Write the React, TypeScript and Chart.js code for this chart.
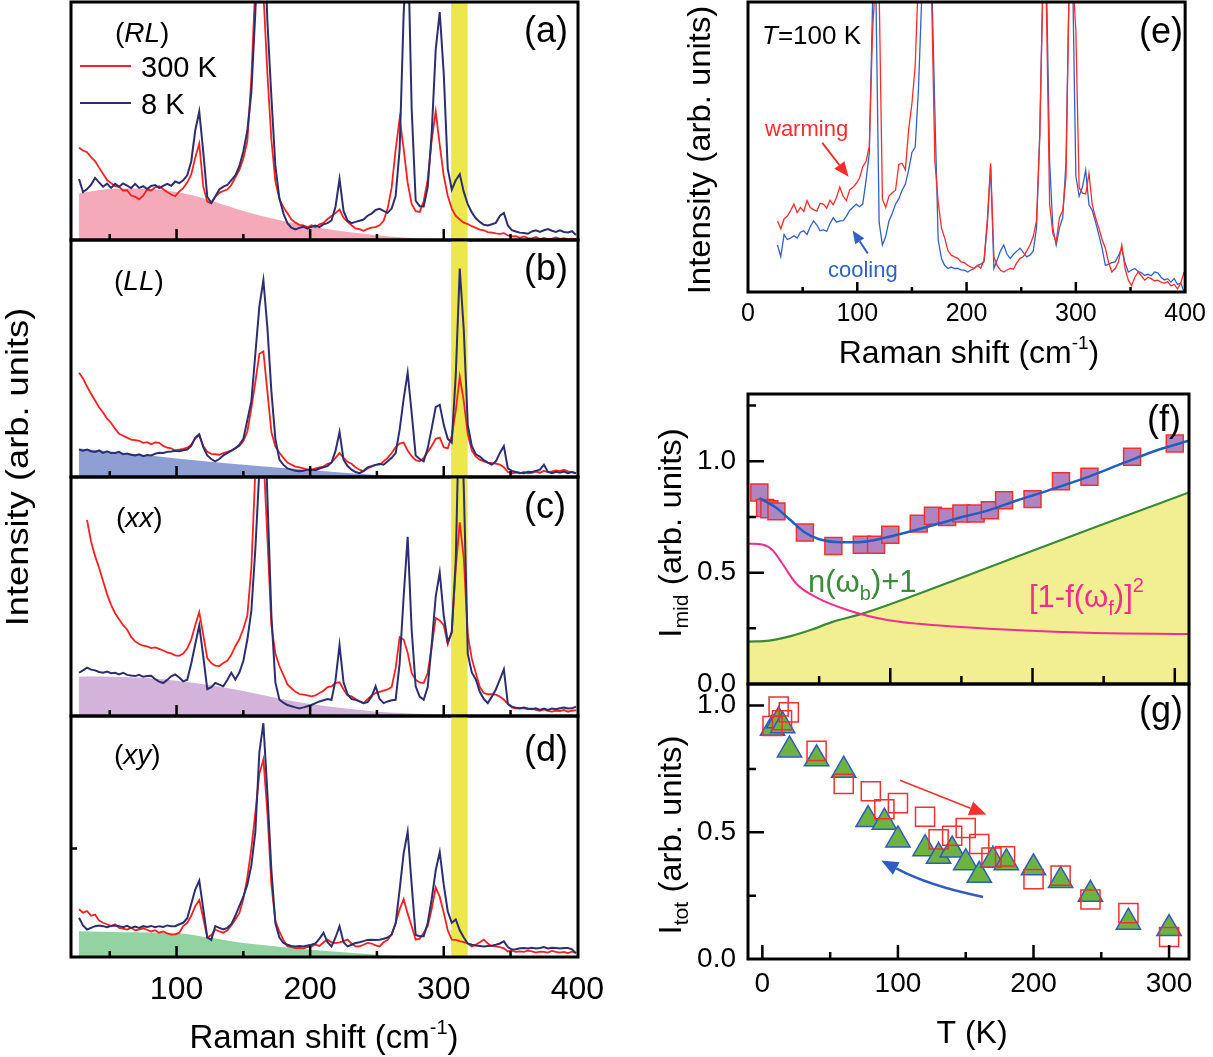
import React, { useEffect, useRef } from "react";
import { Chart, registerables } from "chart.js";

Chart.register(...registerables);

const FONT = '"Liberation Sans", Arial, Helvetica, sans-serif';
const W = 1213;
const H = 1057;

// ---------- Raman spectra, panels (a)-(e) ----------
// Raman shift grid (cm^-1) shared by every spectrum
const shift = [
  27, 30, 33, 36, 39, 42, 45, 48, 51, 54,
  57, 60, 63, 66, 69, 72, 75, 78, 81, 84,
  87, 90, 93, 96, 99, 102, 105, 108, 111, 114,
  117, 120, 123, 126, 129, 132, 135, 138, 141, 144,
  147, 150, 153, 156, 159, 162, 165, 168, 171, 174,
  177, 180, 183, 186, 189, 192, 195, 198, 201, 204,
  207, 210, 213, 216, 219, 222, 225, 228, 231, 234,
  237, 240, 243, 246, 249, 252, 255, 258, 261, 264,
  267, 270, 273, 276, 279, 282, 285, 288, 291, 294,
  297, 300, 303, 306, 309, 312, 315, 318, 321, 324,
  327, 330, 333, 336, 339, 342, 345, 348, 351, 354,
  357, 360, 363, 366, 369, 372, 375, 378, 381, 384,
  387, 390, 393, 396, 399,
];

// (RL) geometry
const rl300 = [
  38.8, 37.6, 36.9, 34.8, 33.2, 30.4, 27.8, 25.2, 23.9, 22.6,
  22.3, 20.8, 20.9, 18.7, 18.2, 17.1, 18.6, 21.2, 20.8, 22.1,
  22.6, 21.3, 20.2, 19.1, 18.4, 20.3, 21.8, 24.1, 27.5, 34.6,
  40.5, 22.4, 16.1, 15.4, 18.2, 19.8, 20.6, 21.2, 23.1, 26.3,
  29.4, 34.2, 41.5, 68, 108, 140, 104, 70, 42, 24.5,
  17.2, 13.8, 11.2, 8.6, 7.3, 6.4, 6.1, 5.3, 6.2, 5.4,
  6.6, 7.2, 8.8, 10.1, 11.3, 12.8, 9.4, 7.6, 6.2, 4.9,
  4.6, 3.9, 4.7, 5.2, 5.4, 6.2, 8.1, 13.2, 22, 38,
  51, 38.3, 24, 15.2, 12.1, 11.8, 16.3, 25.4, 42, 54,
  40, 27, 18.6, 13.2, 10.1, 8.6, 7.3, 6.7, 5.8, 5.1,
  4.4, 4.1, 3.3, 3.1, 2.8, 2.6, 2.9, 1.9, 1.5, 1.6,
  0.9, 1.5, 0.8, 0.7, 1.3, 0.4, 0.9, 0.3, 0.6, 1.1,
  0.5, 0.8, 0.3, 0.6, 0.5,
];
const rl8 = [
  25.6, 20.1, 21.4, 23.2, 26.1, 24.2, 22.4, 23.7, 21.9, 23.6,
  22.4, 23.8, 22.9, 21.8, 23.6, 21.9, 22.6, 21.4, 22.7, 23.1,
  21.8, 22.7, 23.6, 22.8, 24.6, 23.9, 25.1, 27.2, 33, 46,
  54, 37, 18.2, 15.6, 18.3, 21.2, 22.4, 23.1, 25.2, 27.1,
  31, 37.2, 46, 62, 96, 140, 140, 92, 60, 31,
  17.5, 11.2, 7.1, 5.2, 4.4, 5.1, 5.6, 4.8, 5.6, 6.1,
  5.4, 6.6, 7.1, 8.2, 14, 25.6, 12.2, 8.1, 7.1, 7.6,
  8.1, 8.6, 10.2, 11.1, 12.6, 13.1, 12.2, 11.4, 13.2, 18.5,
  38, 95, 130, 55, 16.5, 14.2, 14.1, 22.2, 45, 80,
  95.8, 70, 30, 21.2, 25.1, 27.6, 20.2, 15.1, 11.6, 9.1,
  7.6, 6.4, 6.1, 6.6, 7.2, 10.1, 11.4, 6.1, 4.1, 3.6,
  3.1, 2.9, 2.6, 3.6, 4.1, 3.4, 4.1, 4.6, 3.9, 3.4,
  4.1, 3.4, 3.2, 3.7, 2.1,
];

// (LL) geometry
const ll300 = [
  44, 41.6, 38.2, 35.1, 32.3, 29.4, 27.2, 24.6, 22.8, 20.4,
  18.2, 17.4, 16.6, 15.8, 15.6, 15.3, 14.4, 14.7, 13.8, 14.6,
  14.4, 13.1, 12.4, 12.1, 11.2, 11.6, 11.9, 12.4, 13.6, 16.2,
  17.6, 13.1, 10.6, 9.8, 9.6, 9.4, 10.1, 10.6, 11.1, 12.2,
  13.1, 15.2, 19.2, 29, 40, 52, 53, 36, 19, 12.8,
  10.2, 8.1, 6.1, 5.2, 4.4, 4.1, 3.6, 3.1, 2.9, 3.6,
  4.1, 4.4, 5.6, 6.1, 8.1, 10.2, 8.1, 6.4, 5.6, 4.1,
  3.1, 2.4, 3.6, 4.4, 5.1, 5.2, 6.6, 8.1, 10.1, 12.6,
  14.1, 14.5, 11.2, 8.8, 7.1, 6.6, 8.1, 10.6, 13.1, 16.1,
  16.6, 12.6, 12.1, 17.3, 28, 42.3, 32, 18, 11.2, 8.6,
  7.3, 6.6, 6.1, 5.9, 5.6, 5.2, 4.1, 2.1, 1.6, 1.9,
  1.6, 2.1, 1.5, 1.7, 2.3, 1.8, 2.6, 2.1, 2.4, 2.8,
  2.5, 3.1, 2.4, 2.1, 1.6,
];
const ll8 = [
  11.6, 11.1, 11.6, 10.9, 10.6, 11.2, 10.2, 10.8, 10.1, 10.1,
  10.6, 9.6, 9.9, 9.4, 9.1, 9.6, 8.8, 9.3, 9.1, 9.8,
  10.2, 10.1, 10.6, 10.8, 11.1, 10.9, 11.3, 11.6, 13.1, 16.6,
  18, 12.6, 9.1, 7.6, 6.6, 7.6, 9.1, 10.1, 11.1, 12.1,
  13.6, 16.1, 24, 32, 52, 72, 83, 63, 36, 16,
  7.3, 5.1, 3.6, 3.1, 2.6, 2.4, 2.6, 3.1, 3.2, 2.9,
  3.6, 4.1, 4.6, 6.1, 11, 19, 7.3, 4.6, 3.1, 2.1,
  1.6, 2.6, 4.1, 4.6, 5.1, 5.6, 5.2, 6.6, 8.1, 10.1,
  20, 33, 44, 27, 9.1, 7.6, 6.6, 12.1, 20.5, 29.5,
  30.5, 22, 16.1, 14.5, 43, 88, 62, 22, 13.1, 9.6,
  8.6, 7.1, 6.1, 5.2, 6.6, 10.1, 13, 3.6, 2.6, 2.1,
  1.8, 1.6, 2.2, 2.1, 2.6, 3.1, 5.2, 2.1, 1.6, 2.2,
  1.8, 2.3, 1.6, 2.1, 1.6,
];

// (xx) geometry
const xx300 = [
  null, null, 82, 73, 67, 62, 56.5, 51, 46.5, 43,
  40.5, 38, 36.2, 33.1, 31.2, 30.1, 29.4, 29.1, 28.4, 28.7,
  28.1, 27.4, 26.6, 26.2, 25.4, 25.2, 26.1, 28.2, 32, 38,
  43.5, 34, 24.2, 22.1, 21.1, 20.9, 22.2, 23.1, 25.6, 29.2,
  32.1, 36.5, 42, 62, 103, 140, 110, 74.6, 38, 26,
  20.9, 17.1, 13.2, 11.6, 10.1, 9.2, 8.9, 8.6, 8.2, 8.6,
  9.6, 10.6, 12.1, 12.4, 13.9, 14.1, 11.1, 8.6, 8.2, 7.1,
  6.1, 5.4, 7.1, 8.6, 9.6, 10.1, 10.6, 11.1, 12.1, 20,
  33, 32, 26.5, 18, 15.1, 14.1, 13.8, 18, 29, 41,
  40, 38, 30, 35, 62, 81, 66, 34, 24, 18,
  12.1, 9.6, 9.1, 9.1, 8.9, 8.1, 6.8, 5.1, 3.6, 3.2,
  3.1, 3.3, 2.8, 3.2, 2.6, 2.2, 2.8, 2.1, 1.8, 2.2,
  2.1, 2.5, 1.8, 2.2, 2.5,
];
const xx8 = [
  18.1, 19.1, 20.2, 19.4, 19.1, 18.4, 18.1, 18.6, 17.9, 18.1,
  17.4, 18.1, 17.2, 16.9, 16.7, 17.2, 16.4, 16.7, 16.8, 15.4,
  14.4, 13.8, 15.1, 16.6, 17.4, 16.1, 14.5, 15.2, 22, 30,
  37.9, 25, 11.2, 12.1, 13.8, 13.1, 12.4, 15.1, 18.1, 15.3,
  18.2, 23, 32, 44, 70, 103, 140, 92, 42, 14,
  6.8, 5.6, 4.6, 4.1, 3.6, 3.2, 3.6, 4.1, 4.6, 5.4,
  6.1, 6.6, 7.1, 6.8, 15, 29.7, 14.1, 9.1, 7.1, 6.8,
  6.1, 5.4, 5.8, 8.1, 12.4, 7.1, 5.4, 6.1, 6.6, 6.8,
  22, 50, 75, 36, 12.4, 8.1, 6.8, 12.1, 30, 50,
  60, 42, 31, 35, 65, 140, 96, 26, 18.2, 15.3,
  10.1, 7.1, 5.4, 8.1, 11.1, 15.2, 19.5, 5.1, 3.9, 3.5,
  3.2, 3.5, 3.1, 2.8, 3.2, 2.5, 3.1, 2.5, 3.1, 2.8,
  3.2, 3.5, 3.1, 3.2, 3.9,
];

// (xy) geometry
const xy300 = [
  19.8, 18.4, 19.1, 17.1, 17.6, 15.1, 14.2, 13.6, 12.8, 13.6,
  12.1, 11.8, 11.4, 12.1, 11.1, 11.4, 11.9, 11.3, 10.6, 11.1,
  10.1, 10.6, 9.8, 9.3, 9.4, 10.1, 12.8, 14.1, 17.1, 21.1,
  23.6, 16.1, 8.1, 9.1, 11.4, 10.6, 10.1, 11.1, 13.1, 15.6,
  18.2, 24, 33, 45, 60, 76, 82, 60, 30, 15,
  10.5, 7.1, 4.4, 4.1, 3.7, 3.8, 3.6, 4.1, 4.4, 5.1,
  4.6, 6.1, 7.2, 6.1, 5.8, 6.1, 6.6, 7.2, 5.6, 4.4,
  4.4, 5.1, 5.8, 5.6, 4.8, 4.4, 6.1, 7.1, 9.3, 14.1,
  19.8, 24, 18, 12.8, 7.2, 7.6, 10.1, 12.8, 20, 28.9,
  25, 18.4, 11.1, 7.2, 7.1, 6.6, 6.2, 5.6, 4.4, 5.1,
  6.1, 7.2, 5.6, 4.6, 4.4, 4.1, 3.6, 2.3, 2.6, 2.1,
  2.3, 2.1, 2.6, 2.3, 1.8, 2.2, 2.1, 1.8, 2.5, 2.1,
  1.8, 2.1, 1.6, 2.2, 1.6,
];
const xy8 = [
  16.3, 13.1, 11.4, 12.1, 12.8, 13.1, 12.8, 12.4, 12.9, 13.1,
  12.8, 12.4, 12.9, 12.1, 12.6, 12.1, 12.8, 12.5, 12.9, 12.4,
  12.8, 12.5, 13.1, 12.8, 12.8, 13.6, 14.2, 16.1, 22, 28,
  31.7, 20, 8.1, 7.1, 12.8, 12.1, 11.4, 12.1, 13.6, 17.1,
  21.1, 25, 30, 38, 52, 85, 97, 68, 36, 14,
  8.1, 5.8, 5.1, 4.6, 4.4, 4.6, 4.4, 4.8, 5.1, 5.6,
  7.6, 10, 6.1, 4.4, 8.1, 12.8, 6.1, 4.4, 5.1, 5.8,
  6.1, 6.6, 7.1, 7.2, 7.1, 7.2, 7.6, 8.1, 9.3, 14,
  28, 43, 52, 30, 9.1, 8.6, 8.6, 14.1, 24, 36,
  43.5, 30, 19, 14.2, 15.6, 11.1, 8.1, 5.6, 5.1, 4.8,
  4.6, 4.4, 4.6, 4.7, 5.1, 5.6, 6.5, 4.1, 3.1, 3.2,
  3.6, 3.7, 3.5, 3.8, 3.5, 3.7, 4.1, 3.5, 3.8, 3.7,
  3.5, 3.7, 3.7, 3.2, 1.6,
];

// Electronic background under each spectrum
const bgRLShift = [27, 40, 55, 70, 85, 100, 115, 130, 145, 160, 180, 200, 220, 240, 260, 280, 300, 320];
const bgRL = [19.5, 20.8, 21.5, 21.6, 21.2, 20.2, 18.4, 15.8, 13, 10.6, 8, 5.8, 4, 2.6, 1.5, 0.7, 0.2, 0];
const bgLLShift = [27, 60, 100, 150, 200, 250, 275];
const bgLL = [12, 10.2, 7.8, 5.2, 3, 0.8, 0];
const bgXXShift = [27, 60, 100, 130, 150, 175, 200, 225, 250, 275, 300, 318];
const bgXX = [16.5, 16.3, 14.8, 12.5, 10.5, 7.5, 5, 3.2, 1.8, 1, 0.4, 0];
const bgXYShift = [27, 60, 100, 125, 150, 175, 200, 225, 250, 275, 282];
const bgXY = [10.7, 10.3, 10, 8, 5.8, 4.4, 3, 2, 0.9, 0.2, 0];

// Highlighted mode window (cm^-1)
const bandShift = [305.5, 318];

// (e) T = 100 K after warming / cooling
const warming100 = [
  24.5, 21.8, 25.2, 26.2, 28.1, 30.3, 27.4, 29.2, 27.8, 31.5,
  29.1, 28.4, 27.9, 30.6, 30.3, 28.9, 31.6, 30.1, 32.7, 36.2,
  33.1, 31.5, 35.2, 36.1, 37.4, 39.2, 43.2, 45.1, 50.2, 90,
  110, 104, 32, 29.2, 33.1, 34.2, 35.1, 44, 44.4, 42.1,
  56, 65, 78, 110, 110, 110, 110, 102, 45, 31,
  22.1, 18.6, 14.2, 12.7, 12.1, 11.6, 10.4, 10.1, 9.2, 8.6,
  8.1, 9.1, 8.2, 11.1, 25, 44.4, 12.1, 9.1, 7.6, 6.9,
  7.6, 8.1, 7.9, 10.1, 11.6, 12.2, 14.1, 16.2, 19.1, 24.5,
  53.8, 110, 100, 30.3, 20.1, 17.4, 25.6, 28.1, 40, 110,
  110, 90, 36, 34.1, 33.8, 40.9, 30.1, 25.6, 22.1, 18.1,
  15.1, 10.1, 6.9, 8.1, 10.4, 16.2, 8.1, 4.1, 2.2, 5.1,
  6.9, 5.6, 4.1, 5.1, 4.6, 3.8, 4.1, 3.4, 3.1, 3.6,
  2.1, 2.6, 1.1, 3.1, 6.9,
];
const cooling100 = [
  16.2, 12.2, 19.8, 18.1, 18.6, 19.4, 18.6, 20.6, 21.1, 19.8,
  22.6, 24.5, 23.1, 21.1, 21.5, 20.9, 23.6, 25.6, 24.1, 24.5,
  24.6, 26.1, 28.1, 29.2, 30.3, 29.4, 30.3, 38.5, 47.9, 100,
  104, 24, 16.2, 19.1, 24.5, 27.1, 30.3, 32.1, 35.1, 37.2,
  42, 48.1, 50, 70, 102, 110, 110, 110, 62, 18,
  11.6, 9.1, 8.1, 8.6, 8.1, 8.1, 7.6, 7.5, 6.9, 7.6,
  8.1, 9.2, 9.6, 10.5, 23.3, 43.2, 8.1, 11, 14.1, 16.2,
  13, 11.6, 13, 14.1, 15.1, 13.6, 12.1, 12.7, 14.1, 22,
  55, 110, 110, 45, 22, 16.2, 22.1, 25.6, 45, 110,
  110, 40, 33, 36.1, 42, 30.1, 28.1, 24.1, 19.8, 15.1,
  9.2, 9.6, 10.1, 10.4, 12.6, 15.1, 10.1, 6.9, 7.6, 8.1,
  7.1, 6.6, 5.7, 6.1, 5.6, 6.9, 6.6, 5.1, 4.1, 4.6,
  3.4, 4.6, 2.6, 3.1, 0,
];

// ---------- (f) mid-range intensity vs temperature ----------
const midTemp = [8, 12, 15, 20, 40, 60, 80, 90, 100, 120, 130, 140, 150, 160, 170, 180, 200, 220, 240, 270, 300];
const midInt = [0.86, 0.79, 0.785, 0.775, 0.68, 0.62, 0.625, 0.625, 0.67, 0.72, 0.755, 0.75, 0.765, 0.765, 0.78, 0.825, 0.83, 0.91, 0.93, 1.02, 1.08];
const fitTemp = [8, 20, 30, 40, 50, 65, 80, 95, 120, 145, 170, 190, 215, 240, 265, 290, 310];
const fitMid = [0.835, 0.79, 0.735, 0.68, 0.65, 0.636, 0.638, 0.655, 0.695, 0.74, 0.782, 0.826, 0.877, 0.932, 0.995, 1.055, 1.092];
const boseTemp = [0, 15, 30, 45, 60, 80, 100, 150, 200, 250, 310];
const boseFactor = [0.19, 0.195, 0.215, 0.245, 0.28, 0.315, 0.358, 0.477, 0.598, 0.718, 0.86];
const fermiTemp = [0, 10, 17, 24, 34, 48, 72, 96, 120, 144, 191, 239, 310];
const fermiFactor = [0.63, 0.626, 0.603, 0.542, 0.45, 0.389, 0.328, 0.29, 0.27, 0.258, 0.241, 0.23, 0.224];

// ---------- (g) total intensity vs temperature ----------
const coolTemp = [7.5, 12, 15, 20, 40, 60, 78, 90, 100, 120, 130, 140, 150, 160, 170, 180, 200, 220, 242, 270, 300];
const coolTot = [0.91, 0.94, 0.92, 0.825, 0.79, 0.745, 0.55, 0.54, 0.47, 0.435, 0.405, 0.43, 0.38, 0.33, 0.39, 0.38, 0.36, 0.31, 0.255, 0.145, 0.12];
const warmTemp = [7.5, 12, 14.5, 19.5, 40, 60, 80, 90, 100, 120, 130, 140, 150, 160, 169, 179, 200, 220, 242, 270, 300];
const warmTot = [0.919, 0.996, 0.942, 0.973, 0.821, 0.691, 0.662, 0.591, 0.615, 0.561, 0.472, 0.486, 0.517, 0.454, 0.4, 0.405, 0.315, 0.329, 0.235, 0.181, 0.087];

// ---------- ticks ----------
const ramanLabelValues = [100, 200, 300, 400];
const ramanLabels = ["100", "200", "300", "400"];
const ramanMajor = [100, 200, 300];
const ramanMinor = [50, 150, 250, 350];
const xyLeftTick = [45];
const eLabelValues = [0, 100, 200, 300, 400];
const eLabels = ["0", "100", "200", "300", "400"];
const tempLabelValues = [0, 100, 200, 300];
const tempLabels = ["0", "100", "200", "300"];
const tempMajor = [100, 200, 300];
const tempMinor = [50, 150, 250];
const intLabelValues = [0, 0.5, 1.0];
const intLabels = ["0.0", "0.5", "1.0"];
const intMajor = [0.5, 1.0];
const fMinor = [0.25, 0.75, 1.25];
const gMinor = [0.25, 0.75];

// ---------- colours ----------
const RED = "#ff1f1f";
const NAVY = "#2c2f6e";
const BAND = "#ece74c";
const E_RED = "#ff2b2b";
const E_BLUE = "#2f62c4";

const pts = (xs: number[], ys: (number | null)[]) => xs.map((x, i) => ({ x, y: ys[i] }));

type Run = { t: string; size: number; dy?: number; italic?: boolean };

function drawText(
  ctx: CanvasRenderingContext2D,
  runs: Run[],
  x: number,
  y: number,
  o: { align?: "left" | "center" | "right"; color?: string; rotate?: boolean; stretch?: number } = {}
) {
  ctx.save();
  ctx.translate(x, y);
  if (o.rotate) ctx.rotate(-Math.PI / 2);
  if (o.stretch) ctx.scale(o.stretch, 1);
  ctx.fillStyle = o.color || "#000";
  ctx.textBaseline = "alphabetic";
  ctx.textAlign = "left";
  const fontOf = (r: Run) => `${r.italic ? "italic " : ""}${r.size}px ${FONT}`;
  const widths = runs.map((r) => {
    ctx.font = fontOf(r);
    return ctx.measureText(r.t).width;
  });
  const total = widths.reduce((s, w) => s + w, 0);
  let cx = o.align === "center" ? -total / 2 : o.align === "right" ? -total : 0;
  runs.forEach((r, i) => {
    ctx.font = fontOf(r);
    ctx.fillText(r.t, cx, r.dy || 0);
    cx += widths[i];
  });
  ctx.restore();
}

function drawArrow(
  ctx: CanvasRenderingContext2D,
  x1: number, y1: number, x2: number, y2: number,
  color: string, width: number, head: number, ctrl?: [number, number]
) {
  const dx = ctrl ? x2 - ctrl[0] : x2 - x1;
  const dy = ctrl ? y2 - ctrl[1] : y2 - y1;
  const len = Math.hypot(dx, dy) || 1;
  const ux = dx / len;
  const uy = dy / len;
  const bx = x2 - ux * head;
  const by = y2 - uy * head;
  ctx.save();
  ctx.strokeStyle = color;
  ctx.fillStyle = color;
  ctx.lineWidth = width;
  ctx.beginPath();
  ctx.moveTo(x1, y1);
  if (ctrl) ctx.quadraticCurveTo(ctrl[0], ctrl[1], bx, by);
  else ctx.lineTo(bx, by);
  ctx.stroke();
  const hw = head * 0.42;
  ctx.beginPath();
  ctx.moveTo(x2, y2);
  ctx.lineTo(bx - uy * hw, by + ux * hw);
  ctx.lineTo(bx + uy * hw, by - ux * hw);
  ctx.closePath();
  ctx.fill();
  ctx.restore();
}

type Decor = {
  xMajor: number[];
  xMinor: number[];
  xLen: [number, number];
  yMajor?: number[];
  yMinor?: number[];
  yLen?: [number, number];
  draw?: (ctx: CanvasRenderingContext2D, chart: any) => void;
};

function decorPlugin(d: Decor) {
  return {
    id: "panelDecor",
    afterDraw(chart: any) {
      const { ctx, chartArea: a } = chart;
      const xs = chart.scales.x;
      const ys = chart.scales.y;
      ctx.save();
      ctx.strokeStyle = "#000";
      ctx.lineWidth = 2.5;
      ctx.beginPath();
      d.xMajor.forEach((v) => {
        const p = xs.getPixelForValue(v);
        ctx.moveTo(p, a.bottom);
        ctx.lineTo(p, a.bottom - d.xLen[0]);
      });
      d.xMinor.forEach((v) => {
        const p = xs.getPixelForValue(v);
        ctx.moveTo(p, a.bottom);
        ctx.lineTo(p, a.bottom - d.xLen[1]);
      });
      if (d.yMajor && d.yLen) {
        d.yMajor.forEach((v) => {
          const p = ys.getPixelForValue(v);
          ctx.moveTo(a.left, p);
          ctx.lineTo(a.left + d.yLen![0], p);
        });
      }
      if (d.yMinor && d.yLen) {
        d.yMinor.forEach((v) => {
          const p = ys.getPixelForValue(v);
          ctx.moveTo(a.left, p);
          ctx.lineTo(a.left + d.yLen![1], p);
        });
      }
      ctx.stroke();
      ctx.lineWidth = 3;
      ctx.strokeRect(a.left, a.top, a.right - a.left, a.bottom - a.top);
      ctx.restore();
      if (d.draw) {
        ctx.save();
        d.draw(ctx, chart);
        ctx.restore();
      }
    },
  };
}

function labelledAxis(
  kind: "x" | "y", min: number, max: number, values: number[], labels: string[],
  size: number, pad: number, thickness: number
) {
  return {
    type: "linear",
    position: kind === "x" ? "bottom" : "left",
    min,
    max,
    afterBuildTicks: (s: any) => {
      s.ticks = values.map((v) => ({ value: v }));
    },
    afterFit: (s: any) => {
      if (kind === "x") s.height = thickness;
      else s.width = thickness;
    },
    grid: { display: false, drawTicks: false },
    border: { display: false },
    ticks: {
      autoSkip: false,
      maxRotation: 0,
      minRotation: 0,
      padding: pad,
      color: "#000",
      font: { family: FONT, size },
      callback: (_v: any, i: number) => labels[i],
    },
  };
}

const hiddenAxis = (min: number, max: number) => ({ type: "linear", display: false, min, max });

const baseOptions = (padding: any, scales: any) => ({
  responsive: false,
  maintainAspectRatio: false,
  animation: false,
  devicePixelRatio: 1,
  events: [],
  layout: { padding },
  plugins: { legend: { display: false }, tooltip: { enabled: false }, title: { display: false } },
  scales,
});

// ---------- left column: four polarisation geometries ----------
const COL_L = 71;
const COL_R = 578;
const RAMAN_MIN = 21;
const RAMAN_MAX = 400.5;
const SPEC_MAX = 100;

function spectrumPanel(p: {
  top: number;
  bottom: number;
  hot: (number | null)[];
  cold: number[];
  bgX: number[];
  bgY: number[];
  bgColor: string;
  labelled?: boolean;
  leftTicks?: number[];
  draw: (ctx: CanvasRenderingContext2D, chart: any) => void;
}) {
  const datasets = [
    { data: pts(shift, p.cold), borderColor: NAVY, borderWidth: 2, pointRadius: 0, fill: false, tension: 0 },
    { data: pts(shift, p.hot), borderColor: RED, borderWidth: 1.8, pointRadius: 0, fill: false, tension: 0, spanGaps: false },
    {
      data: bandShift.map((x) => ({ x, y: SPEC_MAX })),
      borderWidth: 0, pointRadius: 0, fill: "origin", backgroundColor: BAND,
    },
    {
      data: pts(p.bgX, p.bgY),
      borderWidth: 0, pointRadius: 0, fill: "origin", backgroundColor: p.bgColor,
      cubicInterpolationMode: "monotone",
    },
  ];
  const axisH = 60;
  const scales = {
    x: p.labelled
      ? labelledAxis("x", RAMAN_MIN, RAMAN_MAX, ramanLabelValues, ramanLabels, 32, 14, axisH)
      : hiddenAxis(RAMAN_MIN, RAMAN_MAX),
    y: hiddenAxis(0, SPEC_MAX),
  };
  const padding = {
    left: COL_L,
    right: W - COL_R,
    top: p.top,
    bottom: p.labelled ? H - p.bottom - axisH : H - p.bottom,
  };
  return {
    type: "line",
    data: { datasets },
    options: baseOptions(padding, scales),
    plugins: [
      decorPlugin({
        xMajor: ramanMajor, xMinor: ramanMinor, xLen: [11, 6],
        yMajor: [], yMinor: p.leftTicks || [], yLen: [6, 6],
        draw: p.draw,
      }),
    ],
  };
}

const geometryLabel = (ctx: CanvasRenderingContext2D, g: string, x: number, y: number) =>
  drawText(ctx, [{ t: "(", size: 28 }, { t: g, size: 28, italic: true }, { t: ")", size: 28 }], x, y);

const panelA = () =>
  spectrumPanel({
    top: 2, bottom: 240, hot: rl300, cold: rl8, bgX: bgRLShift, bgY: bgRL, bgColor: "#f5aab9",
    draw: (ctx) => {
      drawText(ctx, [{ t: "(a)", size: 36 }], 568, 42, { align: "right" });
      geometryLabel(ctx, "RL", 115, 42);
      ctx.lineWidth = 2;
      ctx.strokeStyle = RED;
      ctx.beginPath();
      ctx.moveTo(80, 66);
      ctx.lineTo(131, 66);
      ctx.stroke();
      ctx.strokeStyle = NAVY;
      ctx.beginPath();
      ctx.moveTo(80, 103);
      ctx.lineTo(131, 103);
      ctx.stroke();
      drawText(ctx, [{ t: "300 K", size: 29 }], 141, 77);
      drawText(ctx, [{ t: "8 K", size: 29 }], 141, 114);
    },
  });

const panelB = () =>
  spectrumPanel({
    top: 240, bottom: 477, hot: ll300, cold: ll8, bgX: bgLLShift, bgY: bgLL, bgColor: "#8d9fd5",
    draw: (ctx) => {
      drawText(ctx, [{ t: "(b)", size: 36 }], 568, 280, { align: "right" });
      geometryLabel(ctx, "LL", 114, 290);
    },
  });

const panelC = () =>
  spectrumPanel({
    top: 477, bottom: 716, hot: xx300, cold: xx8, bgX: bgXXShift, bgY: bgXX, bgColor: "#d3b3d9",
    draw: (ctx) => {
      drawText(ctx, [{ t: "(c)", size: 36 }], 566, 518, { align: "right" });
      geometryLabel(ctx, "xx", 116, 527);
    },
  });

const panelD = () =>
  spectrumPanel({
    top: 716, bottom: 957, hot: xy300, cold: xy8, bgX: bgXYShift, bgY: bgXY, bgColor: "#93d3a2",
    labelled: true,
    leftTicks: xyLeftTick,
    draw: (ctx) => {
      drawText(ctx, [{ t: "(d)", size: 36 }], 568, 761, { align: "right" });
      geometryLabel(ctx, "xy", 114, 764);
      drawText(ctx, [{ t: "Intensity (arb. units)", size: 31 }], 28, 467, { align: "center", rotate: true, stretch: 1.17 });
      drawText(
        ctx,
        [{ t: "Raman shift (cm", size: 33 }, { t: "-1", size: 20, dy: -14 }, { t: ")", size: 33 }],
        324, 1048, { align: "center" }
      );
    },
  });

// ---------- right column ----------
const RC_L = 748;
const RC_R = 1189;

const panelE = () => {
  const axisH = 50;
  const datasets = [
    { data: pts(shift, warming100), borderColor: E_RED, borderWidth: 1.3, pointRadius: 0, fill: false, tension: 0 },
    { data: pts(shift, cooling100), borderColor: E_BLUE, borderWidth: 1.3, pointRadius: 0, fill: false, tension: 0 },
  ];
  const scales = {
    x: labelledAxis("x", 0, 400, eLabelValues, eLabels, 25, 7, axisH),
    y: hiddenAxis(0, SPEC_MAX),
  };
  const padding = { left: RC_L, right: W - RC_R, top: 2, bottom: H - 292 - axisH };
  return {
    type: "line",
    data: { datasets },
    options: baseOptions(padding, scales),
    plugins: [
      decorPlugin({
        xMajor: ramanMajor, xMinor: ramanMinor, xLen: [10, 5],
        draw: (ctx, chart) => {
          const xs = chart.scales.x;
          const ys = chart.scales.y;
          drawText(ctx, [{ t: "(e)", size: 36 }], 1183, 43, { align: "right" });
          drawText(ctx, [{ t: "T", size: 26, italic: true }, { t: "=100 K", size: 26 }], 762, 44);
          drawText(ctx, [{ t: "warming", size: 22 }], 765, 136, { color: E_RED });
          drawText(ctx, [{ t: "cooling", size: 22 }], 828, 277, { color: E_BLUE });
          drawArrow(ctx, xs.getPixelForValue(68), ys.getPixelForValue(51.4), xs.getPixelForValue(92), ys.getPixelForValue(39.7), E_RED, 2, 15);
          drawArrow(ctx, xs.getPixelForValue(109.6), ys.getPixelForValue(13.3), xs.getPixelForValue(95.7), ys.getPixelForValue(21.2), E_BLUE, 2, 13);
          drawText(ctx, [{ t: "Intensity (arb. units)", size: 31 }], 710, 150, { align: "center", rotate: true, stretch: 1.06 });
          drawText(
            ctx,
            [{ t: "Raman shift (cm", size: 32 }, { t: "-1", size: 19, dy: -14 }, { t: ")", size: 32 }],
            969, 363, { align: "center" }
          );
        },
      }),
    ],
  };
};

const panelF = () => {
  const axisW = 60;
  const datasets = [
    { data: pts(fitTemp, fitMid), borderColor: "#1f5fbf", borderWidth: 2.5, pointRadius: 0, fill: false, cubicInterpolationMode: "monotone" },
    {
      data: pts(midTemp, midInt), showLine: false, pointStyle: "rect", pointRadius: 12,
      backgroundColor: "#b183c1", borderColor: "#f23030", borderWidth: 1.5,
    },
    { data: pts(fermiTemp, fermiFactor), borderColor: "#ef2f8e", borderWidth: 2, pointRadius: 0, fill: false, cubicInterpolationMode: "monotone" },
    {
      data: pts(boseTemp, boseFactor), borderColor: "#3a8a3a", borderWidth: 2.2, pointRadius: 0,
      fill: "origin", backgroundColor: "#f2ee92", cubicInterpolationMode: "monotone",
    },
  ];
  const scales = {
    x: hiddenAxis(0, 310),
    y: labelledAxis("y", 0, 1.302, intLabelValues, intLabels, 28, 12, axisW),
  };
  const padding = { left: RC_L - axisW, right: W - RC_R, top: 394, bottom: H - 684 };
  return {
    type: "line",
    data: { datasets },
    options: baseOptions(padding, scales),
    plugins: [
      decorPlugin({
        xMajor: tempMajor, xMinor: tempMinor, xLen: [16, 8],
        yMajor: intMajor, yMinor: fMinor, yLen: [16, 8],
        draw: (ctx) => {
          drawText(ctx, [{ t: "(f)", size: 36 }], 1181, 431, { align: "right" });
          drawText(
            ctx,
            [{ t: "n(\u03c9", size: 31 }, { t: "b", size: 20, dy: 8 }, { t: ")+1", size: 31 }],
            808, 592, { color: "#3a8a3a" }
          );
          drawText(
            ctx,
            [
              { t: "[1-f(\u03c9", size: 31 },
              { t: "f", size: 20, dy: 8 },
              { t: ")]", size: 31 },
              { t: "2", size: 20, dy: -15 },
            ],
            1029, 607, { color: "#ef2f8e" }
          );
          drawText(
            ctx,
            [{ t: "I", size: 31 }, { t: "mid", size: 20, dy: 7 }, { t: " (arb. units)", size: 31 }],
            681, 533, { align: "center", rotate: true, stretch: 1.06 }
          );
        },
      }),
    ],
  };
};

const panelG = () => {
  const axisW = 60;
  const axisH = 50;
  const datasets = [
    {
      data: pts(warmTemp, warmTot), showLine: false, pointStyle: "rect", pointRadius: 13.5,
      backgroundColor: "rgba(0,0,0,0)", borderColor: "#f23030", borderWidth: 1.5,
    },
    {
      data: pts(coolTemp, coolTot), showLine: false, pointStyle: "triangle", pointRadius: 14,
      backgroundColor: "#6db33f", borderColor: "#2f5cc0", borderWidth: 1.5,
    },
  ];
  const scales = {
    x: labelledAxis("x", -10.6, 314.7, tempLabelValues, tempLabels, 28, 8, axisH),
    y: labelledAxis("y", 0, 1.085, intLabelValues, intLabels, 28, 12, axisW),
  };
  const padding = { left: RC_L - axisW, right: W - RC_R, top: 684, bottom: H - 959 - axisH };
  return {
    type: "line",
    data: { datasets },
    options: baseOptions(padding, scales),
    plugins: [
      decorPlugin({
        xMajor: [0, ...tempMajor], xMinor: tempMinor, xLen: [14, 7],
        yMajor: intMajor, yMinor: gMinor, yLen: [16, 8],
        draw: (ctx, chart) => {
          const xs = chart.scales.x;
          const ys = chart.scales.y;
          drawText(ctx, [{ t: "(g)", size: 36 }], 1183, 722, { align: "right" });
          drawArrow(ctx, xs.getPixelForValue(101.5), ys.getPixelForValue(0.705), xs.getPixelForValue(165.2), ys.getPixelForValue(0.57), "#f23030", 1.5, 17);
          drawArrow(
            ctx,
            xs.getPixelForValue(162.8), ys.getPixelForValue(0.245),
            xs.getPixelForValue(87.7), ys.getPixelForValue(0.389),
            "#2f5cc0", 2.5, 17,
            [xs.getPixelForValue(123), ys.getPixelForValue(0.288)]
          );
          drawText(
            ctx,
            [{ t: "I", size: 31 }, { t: "tot", size: 20, dy: 7 }, { t: " (arb. units)", size: 31 }],
            681, 835, { align: "center", rotate: true, stretch: 1.06 }
          );
          drawText(ctx, [{ t: "T (K)", size: 32 }], 972, 1043, { align: "center" });
        },
      }),
    ],
  };
};

const panels = [panelA, panelB, panelC, panelD, panelE, panelF, panelG];

export default function App() {
  const canvases = useRef<(HTMLCanvasElement | null)[]>([]);

  useEffect(() => {
    Chart.defaults.font.family = FONT;
    Chart.defaults.color = "#000";
    const charts = panels.map((make, i) => new Chart(canvases.current[i] as HTMLCanvasElement, make() as any));
    return () => charts.forEach((c) => c.destroy());
  }, []);

  return (
    <div
      style={{
        position: "absolute",
        left: 0,
        top: 0,
        width: W,
        height: H,
        background: "#fff",
        overflow: "hidden",
      }}
    >
      {panels.map((_, i) => (
        <canvas
          key={i}
          ref={(el) => {
            canvases.current[i] = el;
          }}
          width={W}
          height={H}
          style={{ position: "absolute", left: 0, top: 0, width: W, height: H }}
        />
      ))}
    </div>
  );
}
